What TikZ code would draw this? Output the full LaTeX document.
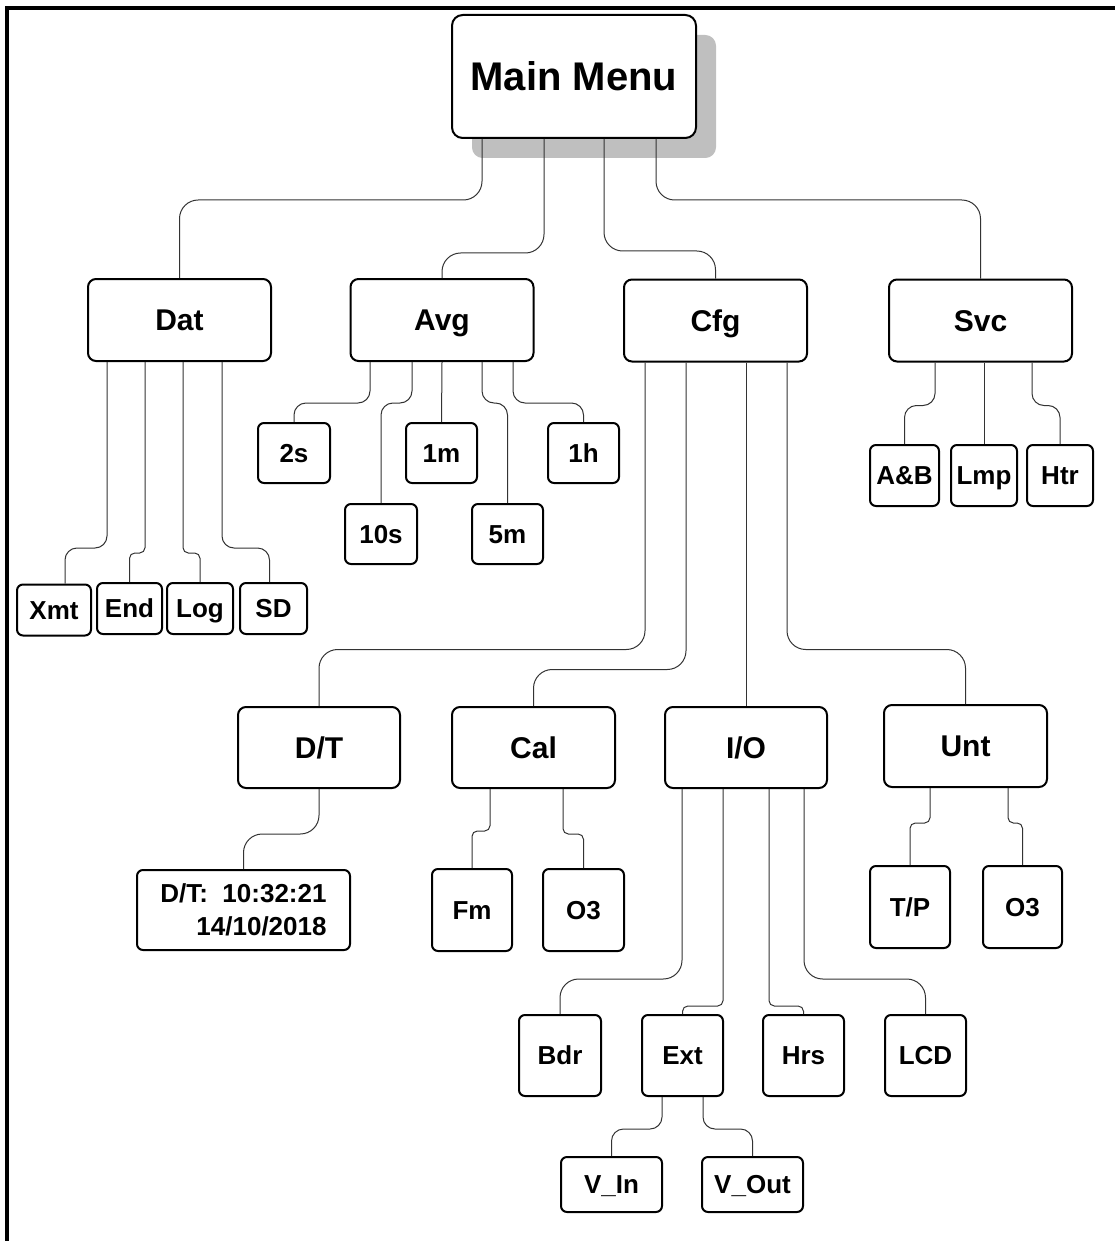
\documentclass[tikz,border=0pt]{standalone}
\usepackage{fontspec}
\setmainfont{Liberation Sans}
\usetikzlibrary{calc,shadows}

\begin{document}
\begin{tikzpicture}[x=0.75pt,y=-0.75pt,
box/.style = {draw, line width=1.5pt, fill=white, inner sep=0pt, rounded corners=6pt, font=\bfseries\fontsize{22.5}{27}\selectfont, text height=16.1pt, text depth=0pt, minimum width=137.25pt, minimum height=61.5pt},
item/.style = {box, rounded corners=4.5pt, font=\bfseries\fontsize{19.5}{24.75}\selectfont, text height=14pt},
dims/.style 2 args = {minimum width=#1*0.75pt, minimum height=#2*0.75pt},
link/.style = {draw=black!80, line width=0.75pt, rounded corners=9pt},
longlink/.style = {link, rounded corners=14pt},
tight/.style = {link, rounded corners=4pt},]
\useasboundingbox (0,0) rectangle (1115,1241);
\draw[line width=3pt] (7,1241) -- (7,8) -- (1115,8);
\node (main) at (574,76.5)[box, dims={244}{123}, rounded corners=8pt, font=\bfseries\fontsize{30}{36}\selectfont, text height=21.5pt, drop shadow={shadow xshift=15pt, shadow yshift=-15pt, fill=black!25, opacity=1}] {Main Menu};
\node (dat) at (179.5,320)[box] {Dat};
\node (avg) at (442,320)[box] {Avg};
\node (cfg) at (715.5,320.5)[box] {Cfg};
\node (svc) at (980.5,320.5)[box] {Svc};
\node (xmt) at (54,610)[item, dims={74}{51}] {Xmt};
\node (endbox) at (129.5,608.5)[item, dims={65}{51}] {End};
\node (log) at (200,608.5)[item, dims={66}{51}] {Log};
\node (sd) at (273.5,608.5)[item, dims={67}{51}] {SD};
\node (two) at (294,453)[item, dims={72}{60}] {2s};
\node (onem) at (441.5,453)[item, dims={71}{60}] {1m};
\node (oneh) at (583.5,453)[item, dims={71}{60}] {1h};
\node (ten) at (381,534)[item, dims={72}{60}] {10s};
\node (five) at (507.5,534)[item, dims={71}{60}] {5m};
\node (ab) at (904.5,475.5)[item, dims={69}{61}] {A\&B};
\node (lmp) at (984,475.5)[item, dims={66}{61}] {Lmp};
\node (htr) at (1060,475.5)[item, dims={66}{61}] {Htr};
\node (dt) at (319,747.5)[box, dims={162}{81}] {D/T};
\node (cal) at (533.5,747.5)[box, dims={163}{81}] {Cal};
\node (io) at (746,747.5)[box, dims={162}{81}] {I/O};
\node (unt) at (965.5,746)[box, dims={163}{82}] {Unt};
\node (val) at (243.5,910)[item, dims={213}{80}, text height=38.75pt, align=right] {D/T:\ \ 10:32:21\\14/10/2018};
\node (fm) at (472,910)[item, dims={80}{82}] {Fm};
\node (calo) at (583.5,910)[item, dims={81}{82}] {O3};
\node (tp) at (910,907)[item, dims={80}{82}] {T/P};
\node (unto) at (1022.5,907)[item, dims={79}{82}] {O3};
\node (bdr) at (560,1055.5)[item, dims={82}{81}] {Bdr};
\node (ext) at (682.5,1055.5)[item, dims={81}{81}] {Ext};
\node (hrs) at (803.5,1055.5)[item, dims={81}{81}] {Hrs};
\node (lcd) at (925.5,1055.5)[item, dims={81}{81}] {LCD};
\node (vin) at (611.5,1184.5)[item, dims={101}{55}] {V\_In};
\node (vout) at (752.5,1184.5)[item, dims={101}{55}] {V\_Out};
\draw[longlink] ($(main.south)+(-92,0)$) -- ++(0,61) -| (dat.north);
\draw[longlink] ($(main.south)+(-30,0)$) -- ++(0,114) -| (avg.north);
\draw[longlink] ($(main.south)+(30,0)$) -- ++(0,112) -| (cfg.north);
\draw[longlink] ($(main.south)+(82,0)$) -- ++(0,61) -| (svc.north);
\draw[link] ($(dat.south)+(-72.5,0)$) -- ++(0,186) -| ($(xmt.north)+(11,0)$);
\draw[tight] ($(dat.south)+(-34.5,0)$) -- ++(0,191) -| (endbox.north);
\draw[tight] ($(dat.south)+(3.5,0)$) -- ++(0,191) -| (log.north);
\draw[link] ($(dat.south)+(42.5,0)$) -- ++(0,186) -| ($(sd.north)+(-4,0)$);
\draw[link] ($(avg.south)+(-72,0)$) -- ++(0,41) -| (two.north);
\draw[link] ($(avg.south)+(-30,0)$) -- ++(0,41) -| (ten.north);
\draw[link] (avg.south) -- (onem.north);
\draw[link] ($(avg.south)+(40,0)$) -- ++(0,41) -| (five.north);
\draw[link] ($(avg.south)+(71,0)$) -- ++(0,41) -| (oneh.north);
\draw[link] ($(svc.south)+(-45.5,0)$) -- ++(0,43) -| (ab.north);
\draw[link] ($(svc.south)+(3.5,0)$) -- (lmp.north);
\draw[link] ($(svc.south)+(51.5,0)$) -- ++(0,43) -| (htr.north);
\draw[longlink] ($(cfg.south)+(-70.5,0)$) -- ++(0,287) -| (dt.north);
\draw[longlink] ($(cfg.south)+(-29.5,0)$) -- ++(0,307) -| (cal.north);
\draw[link] ($(cfg.south)+(30.5,0)$) -- (io.north);
\draw[longlink] ($(cfg.south)+(71.5,0)$) -- ++(0,287) -| (unt.north);
\draw[longlink] (dt.south) -- ++(0,45) -| (val.north);
\draw[tight] ($(cal.south)+(-43.5,0)$) -- ++(0,42) -| (fm.north);
\draw[tight] ($(cal.south)+(29.5,0)$) -- ++(0,45) -| (calo.north);
\draw[longlink] ($(io.south)+(-64,0)$) -- ++(0,190) -| (bdr.north);
\draw[tight] ($(io.south)+(-23,0)$) -- ++(0,217) -| (ext.north);
\draw[tight] ($(io.south)+(23,0)$) -- ++(0,217) -| (hrs.north);
\draw[longlink] ($(io.south)+(58,0)$) -- ++(0,190) -| (lcd.north);
\draw[tight] ($(unt.south)+(-35.5,0)$) -- ++(0,35) -| (tp.north);
\draw[tight] ($(unt.south)+(42.5,0)$) -- ++(0,35) -| (unto.north);
\draw[link] ($(ext.south)+(-20.5,0)$) -- ++(0,32) -| (vin.north);
\draw[link] ($(ext.south)+(20.5,0)$) -- ++(0,32) -| (vout.north);
\end{tikzpicture}
\end{document}
